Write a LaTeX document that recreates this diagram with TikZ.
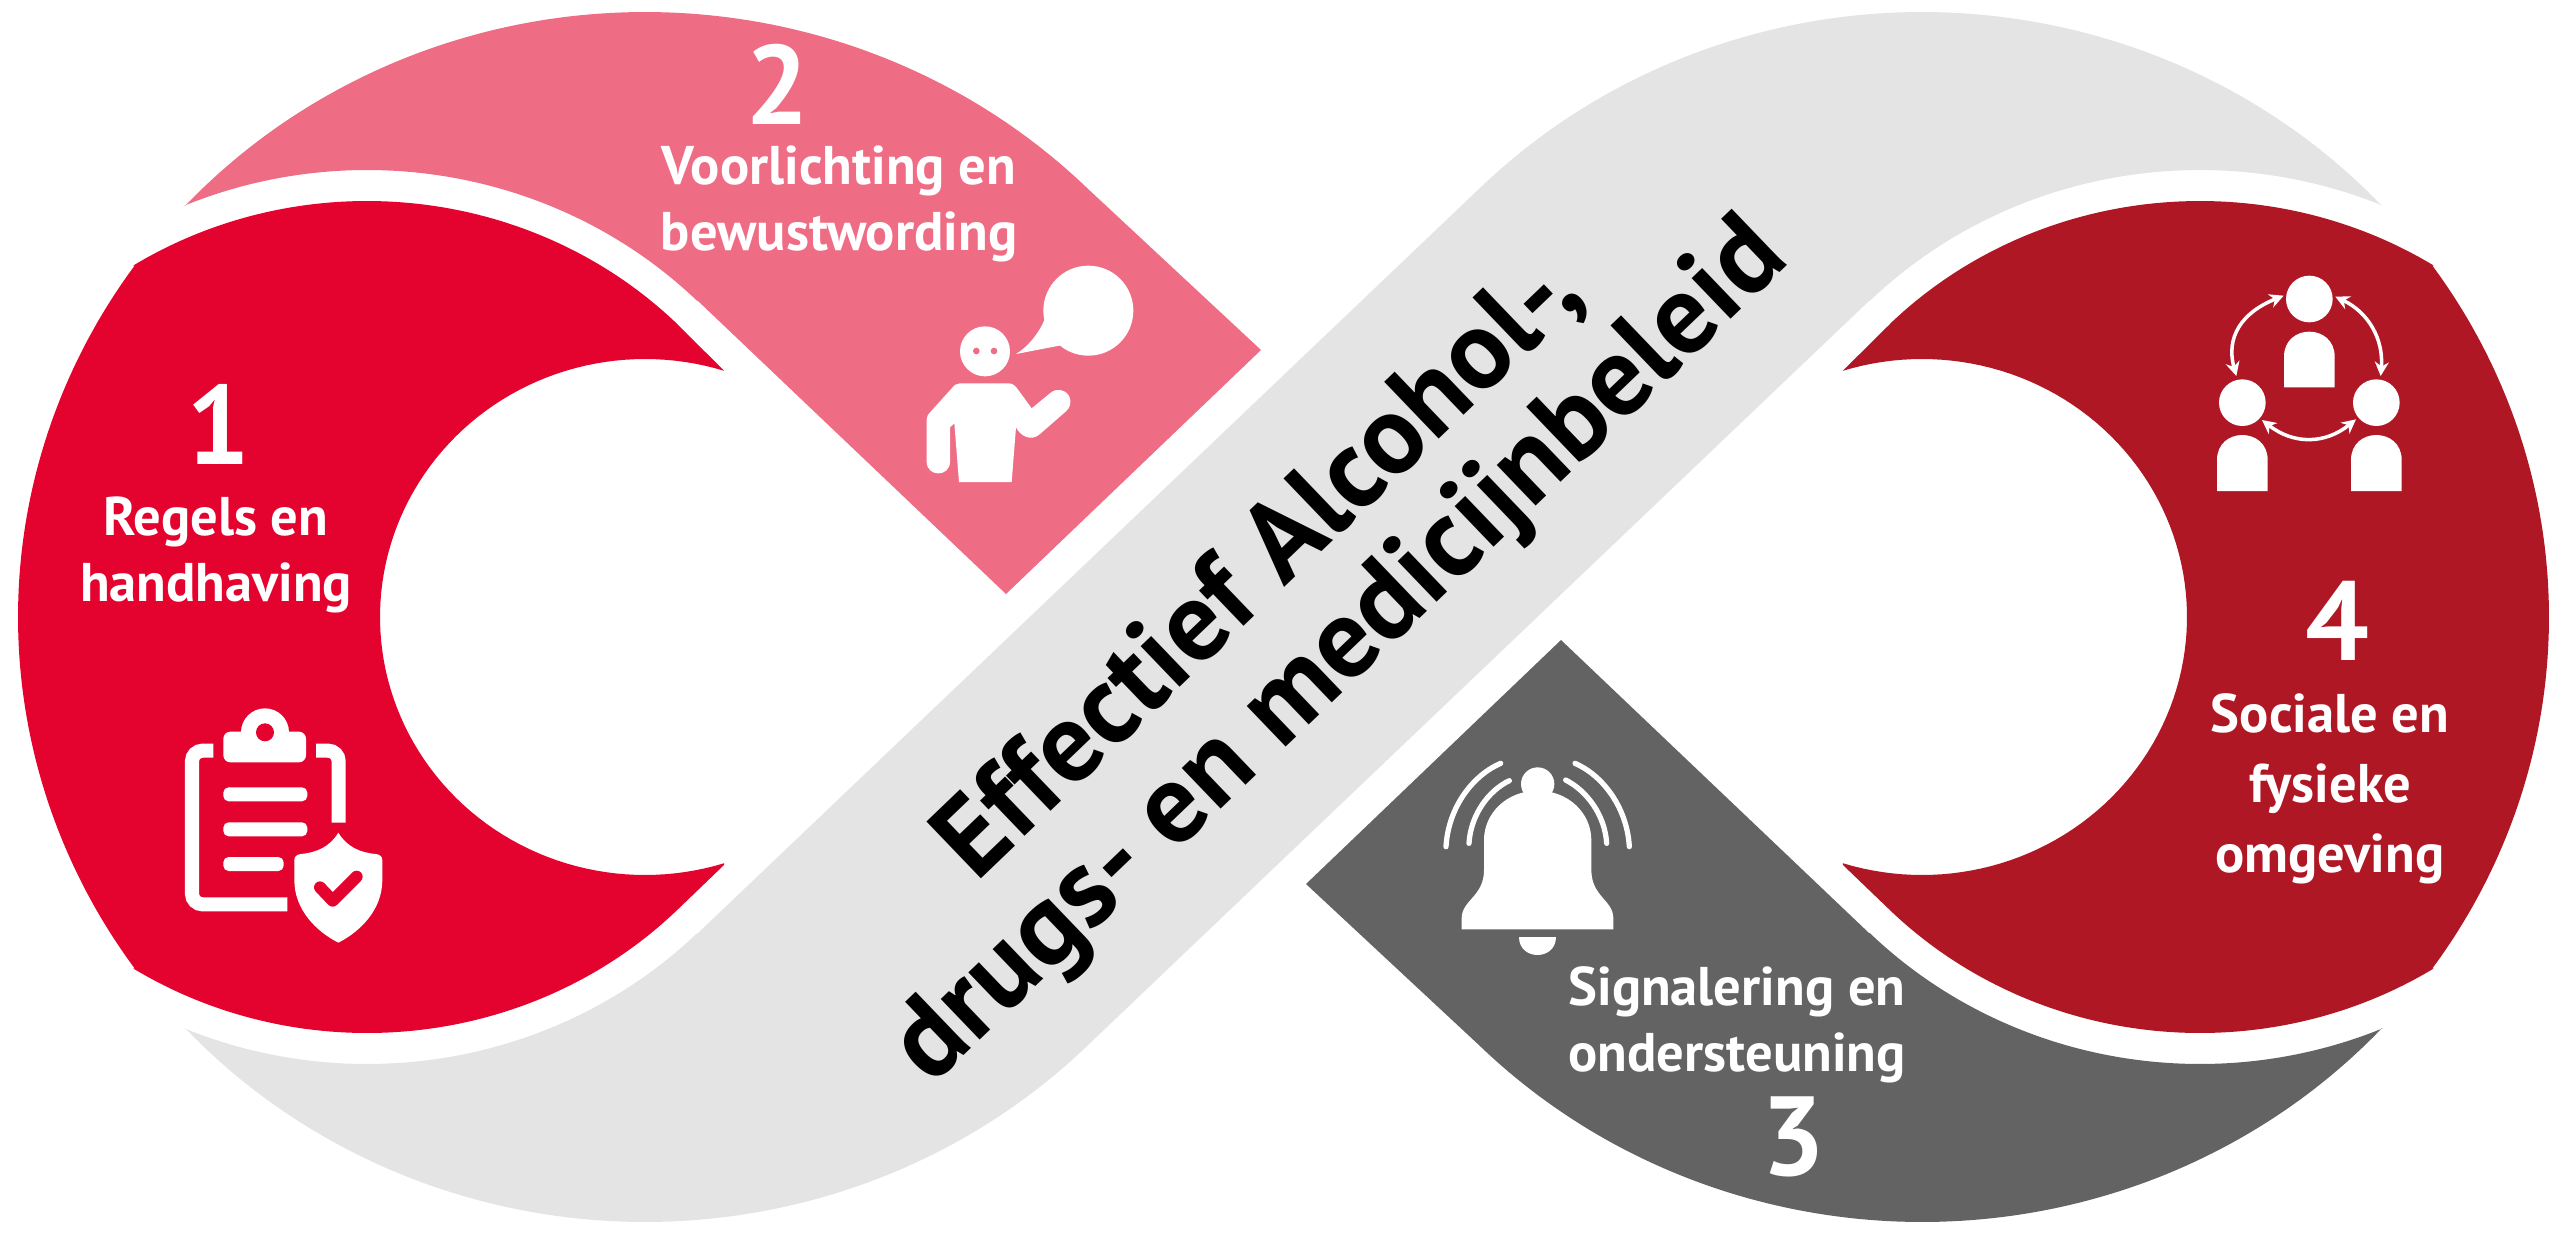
\documentclass[tikz,border=0pt]{standalone}
\usepackage{fontspec}
\setmainfont{PT Sans}
\usetikzlibrary{arrows.meta}
\definecolor{redA}{HTML}{E4032E}
\definecolor{pinkB}{HTML}{EE6D85}
\definecolor{greyC}{HTML}{636363}
\definecolor{redD}{HTML}{AF1725}
\definecolor{bandE}{HTML}{E4E4E4}
\newcommand{\earc}[6]{-- plot[domain=#5:#6,samples=100,variable=\a] ({#1+#3*cos(\a)},{#2+#4*sin(\a)})}
\tikzset{
 lab/.style={text=white,font=\fontsize{15.5}{18.7}\selectfont\bfseries,align=center,inner sep=0pt},
 labwide/.style={lab,font=\fontsize{15.5}{19.9}\selectfont\bfseries},
 num/.style={text=white,font=\fontsize{32}{36}\selectfont\bfseries,inner sep=0pt},
 ttl/.style={text=black,font=\fontsize{32}{33}\selectfont\bfseries,align=center,inner sep=0pt,rotate=43.8},
 ico/.style={fill=white,draw=none},
 wave/.style={draw=white,line width=1.5pt,line cap=round},
 dbl/.style={draw=white,line width=1pt,{Stealth[length=4pt,width=4pt]}-{Stealth[length=4pt,width=4pt]}}
}
\begin{document}
\begin{tikzpicture}[x=0.1mm,y=-0.1mm]
\useasboundingbox (0,0) rectangle (2560,1234);
% grey band
\fill[bandE] (185,1028) \earc{645}{617}{627}{605}{137.2}{45} -- (1869,301) \earc{2200}{617}{467}{447}{-135}{-67}
  -- (2382,206) \earc{1922}{617}{627}{605}{-42.8}{-135} -- (698,933) \earc{367}{617}{467}{447}{45}{113} -- cycle;
% pink
\fill[pinkB] (185,206) \earc{645}{617}{627}{605}{-137.2}{-45} -- (1261,350) -- (1006,594) -- (698,301) \earc{367}{617}{467}{447}{-45}{-113} -- cycle;
% dark grey
\fill[greyC] (2382,1028) \earc{1922}{617}{627}{605}{42.8}{135} -- (1306,884) -- (1561,640) -- (1869,933) \earc{2200}{617}{467}{447}{135}{67} -- cycle;
% red 1
\fill[redA] (133,265) \earc{645}{617}{627}{605}{215.5}{144.5} \earc{367}{617}{437}{416}{122.3}{44.8} -- (724,865) \earc{645}{617}{265}{258}{72.6}{287.4} -- (677,324) \earc{367}{617}{437}{416}{-44.8}{-122.3} -- cycle;
% red 4
\fill[redD] (2434,265) \earc{1922}{617}{627}{605}{-35.5}{35.5} \earc{2200}{617}{437}{416}{57.7}{135.2} -- (1843,865) \earc{1922}{617}{265}{258}{107.4}{-107.4} -- (1890,324) \earc{2200}{617}{437}{416}{-135.2}{-57.7} -- cycle;
% labels
\node[num] (n1) at (218,424) {1};
\node[lab] (l1) at (216,555) {Regels en\\handhaving};
\node[num] (n2) at (777,84) {2};
\node[lab] (l2) at (839,204) {Voorlichting en\\bewustwording};
\node[num] (n3) at (1793,1137) {3};
\node[lab] (l3) at (1737,1025) {Signalering en\\ondersteuning};
\node[num] (n4) at (2337,621) {4};
\node[labwide] (l4) at (2330,789) {Sociale en\\fysieke\\omgeving};
\node[ttl] (title) at (1302,612) {Effectief Alcohol-,\\[0pt]drugs- en medicijnbeleid};
% clipboard icon
\begin{scope}[shift={(140,680)},scale=1/3]
 \draw[white,line width=4pt,rounded corners=3pt] (220,212) -- (156,212) -- (156,673) -- (442,673);
 \draw[white,line width=4pt,rounded corners=3pt] (528,212) -- (596,212) -- (596,428);
 \fill[white] (375,157) circle (72);
 \fill[white,rounded corners=2pt] (250,155) rectangle (498,247);
 \fill[redA] (375,157) circle (27);
 \fill[white,rounded corners=1.5pt] (250,322) rectangle (502,364);
 \fill[white,rounded corners=1.5pt] (250,427) rectangle (502,469);
 \fill[white,rounded corners=1.5pt] (250,531) -- (431,531) -- (431,573) -- (250,573) -- cycle;
 \fill[ico] (595,458) .. controls (570,500) and (530,518) .. (482,522) .. controls (470,524) and (463,530) .. (463,540) -- (463,600) .. controls (463,690) and (530,755) .. (595,788) .. controls (660,755) and (727,690) .. (727,600) -- (727,540) .. controls (727,530) and (720,524) .. (708,522) .. controls (660,518) and (620,500) .. (595,458) -- cycle;
 \draw[redA,line width=3.4pt,line cap=round,line join=round] (540,622) -- (578,662) -- (650,590);
\end{scope}
% person icon
\begin{scope}[shift={(900,240)},scale=1/3]
 \fill[white] (255,334) circle (75);
 \fill[pinkB] (229,333) circle (10);
 \fill[pinkB] (282,333) circle (10);
 \fill[white] (565,212) circle (135);
 \fill[white] (435,235) .. controls (420,275) and (385,320) .. (348,342) -- (483,316) -- cycle;
 \fill[ico] (180,430) -- (325,430) .. controls (338,430) and (345,437) .. (352,446) -- (395,505) -- (452,458) .. controls (470,443) and (500,450) .. (508,470) .. controls (516,490) and (508,505) .. (498,514) -- (420,582) .. controls (395,605) and (362,590) .. (348,562) -- (335,726) -- (177,726) -- (163,550) -- (150,562) -- (150,665) .. controls (150,712) and (80,712) .. (80,665) -- (80,538) .. controls (80,528) and (85,522) .. (92,515) -- (155,445) .. controls (163,435) and (170,430) .. (180,430) -- cycle;
\end{scope}
% people icon
\begin{scope}[shift={(2190,250)},scale=1/3]
 \fill[white] (358,147) circle (70);
 \fill[white] (157,458) circle (70);
 \fill[white] (559,458) circle (70);
 \fill[ico] (282,412) -- (282,320) .. controls (282,220) and (434,220) .. (434,320) -- (434,412) -- cycle;
 \fill[ico] (81,723) -- (81,630) .. controls (81,530) and (233,530) .. (233,630) -- (233,723) -- cycle;
 \fill[ico] (483,723) -- (483,630) .. controls (483,530) and (635,530) .. (635,630) -- (635,723) -- cycle;
 \draw[dbl] (281,137) .. controls (154,188) and (107,262) .. (139,378);
 \draw[dbl] (436,140) .. controls (535,187) and (581,267) .. (572,378);
 \draw[dbl] (216,510) .. controls (311,584) and (405,583) .. (498,508);
\end{scope}
% bell icon
\begin{scope}[shift={(1420,700)},scale=1/3]
 \fill[white] (353,252) circle (50);
 \fill[ico] (125,688) -- (125,655) .. controls (125,600) and (192,590) .. (192,510) -- (192,420) .. controls (192,340) and (260,272) .. (353,272) .. controls (446,272) and (514,340) .. (514,420) -- (514,510) .. controls (514,590) and (580,600) .. (580,655) -- (580,688) -- cycle;
 \fill[ico] (298,710) -- (408,710) .. controls (408,782) and (298,782) .. (298,710) -- cycle;
 \draw[wave] (78,440) .. controls (85,320) and (160,225) .. (242,190);
 \draw[wave] (147,430) .. controls (152,345) and (205,272) .. (268,242);
 \draw[wave] (628,440) .. controls (621,320) and (546,225) .. (465,190);
 \draw[wave] (560,430) .. controls (555,345) and (500,272) .. (437,240);
\end{scope}
\end{tikzpicture}
\end{document}
